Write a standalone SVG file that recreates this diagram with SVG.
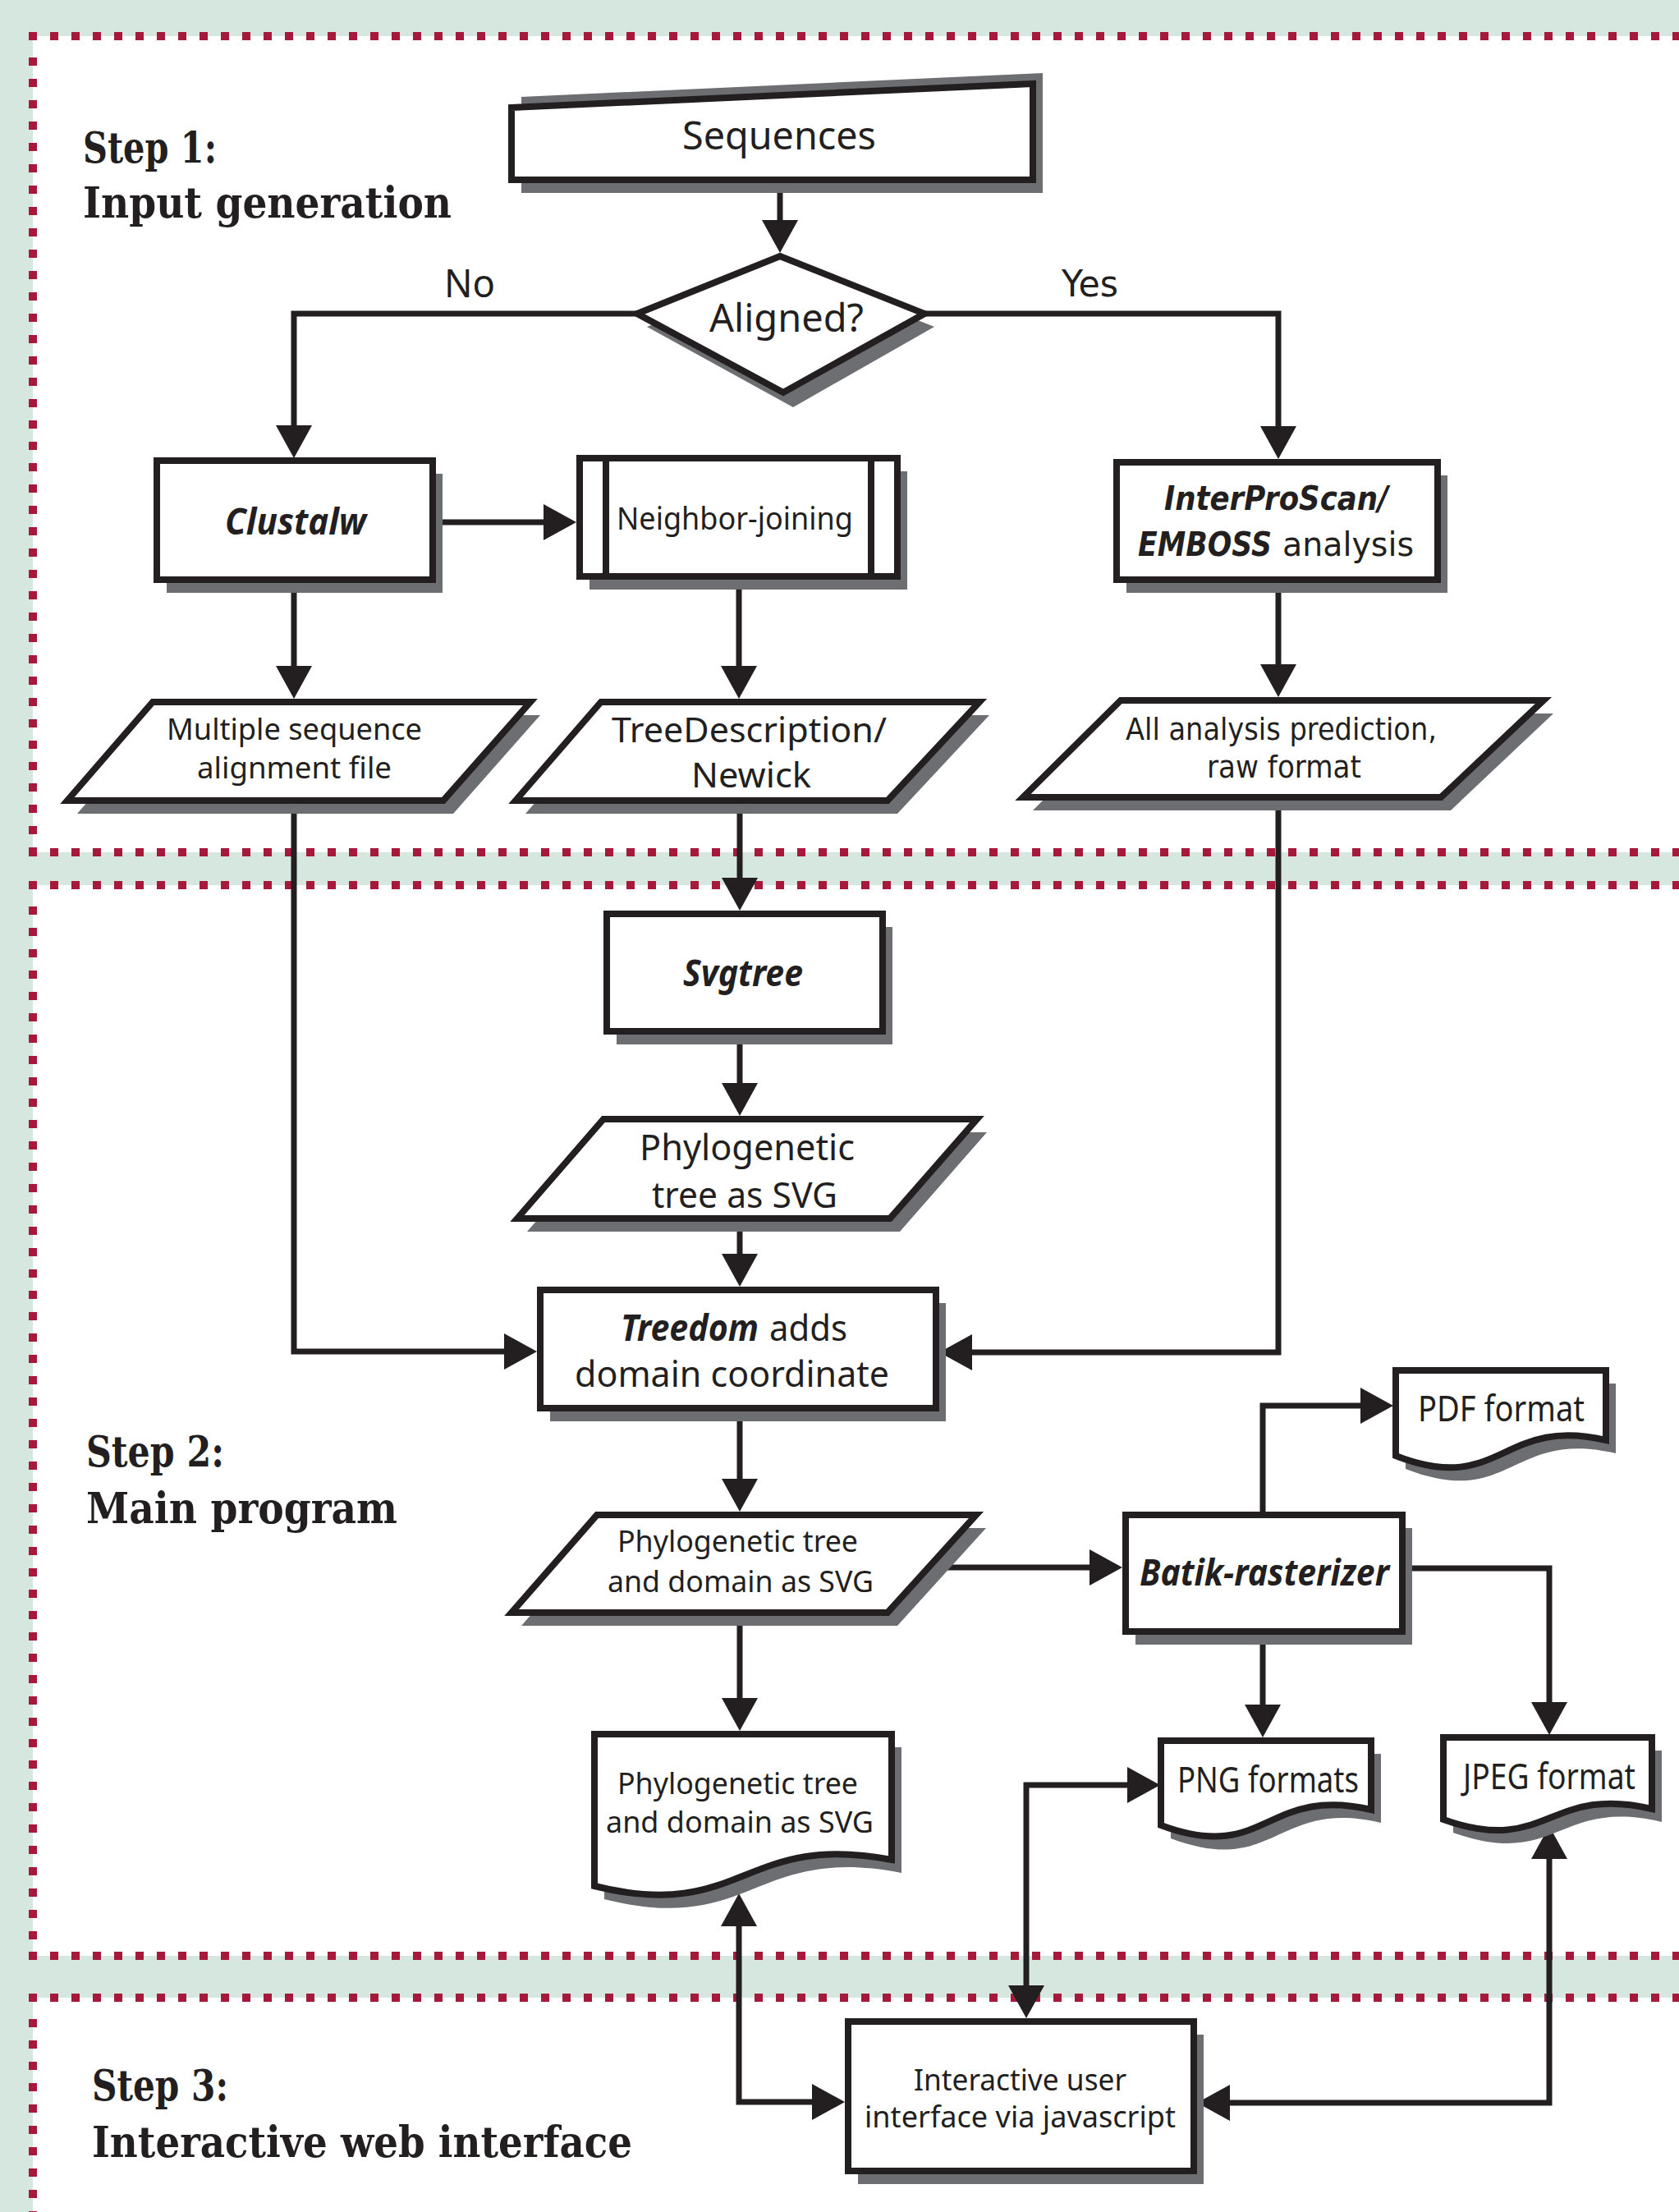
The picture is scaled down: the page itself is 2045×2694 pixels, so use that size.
<svg xmlns="http://www.w3.org/2000/svg" width="2045" height="2694" viewBox="0 0 2045 2694">
<defs>
<style>
.bg{fill:#d6e7df}
.panel{fill:#ffffff}
.dots{fill:none;stroke:#a6193a;stroke-width:10;stroke-dasharray:10 16}
.shape{fill:#ffffff;stroke:#231f20;stroke-width:8;stroke-linejoin:miter}
.inner{fill:none;stroke:#231f20;stroke-width:8}
.shadow{fill:#6d6e71}
.conn{fill:none;stroke:#231f20;stroke-width:7;stroke-linejoin:miter}
.t{font-family:"Noto Sans","Open Sans","DejaVu Sans",sans-serif;fill:#231f20}
.w{font-family:"DejaVu Sans","Noto Sans",sans-serif;fill:#231f20}
.bi{font-weight:bold;font-style:italic}
.step{font-family:"DejaVu Serif","Liberation Serif",serif;font-weight:bold;font-size:52px;fill:#231f20}
</style>
<marker id="ah" markerUnits="userSpaceOnUse" viewBox="0 0 40 44" markerWidth="40" markerHeight="44" refX="30" refY="22" orient="auto-start-reverse">
<path d="M0,0 L40,22 L0,44 z" fill="#231f20"/>
</marker>
</defs>

<g id="background">
<rect class="bg" x="0" y="0" width="2045" height="2694"/>
<rect class="panel" x="40" y="44" width="2005" height="994"/>
<rect class="panel" x="40" y="1078" width="2005" height="1304"/>
<rect class="panel" x="40" y="2433" width="2005" height="261"/>
<path class="dots" d="M35,44 H2045"/>
<path class="dots" d="M40,70 V1038"/>
<path class="dots" d="M35,1038 H2045"/>
<path class="dots" d="M35,1078 H2045"/>
<path class="dots" d="M40,1104 V2382"/>
<path class="dots" d="M35,2382 H2045"/>
<path class="dots" d="M35,2433 H2045"/>
<path class="dots" d="M40,2459 V2694"/>
</g>

<g id="step-labels">
<text class="step" x="101" y="198" textLength="163" lengthAdjust="spacingAndGlyphs">Step 1:</text>
<text class="step" x="101" y="265" textLength="449" lengthAdjust="spacingAndGlyphs">Input generation</text>
<text class="step" x="105" y="1786" textLength="168" lengthAdjust="spacingAndGlyphs">Step 2:</text>
<text class="step" x="105" y="1855" textLength="379" lengthAdjust="spacingAndGlyphs">Main program</text>
<text class="step" x="112" y="2558" textLength="166" lengthAdjust="spacingAndGlyphs">Step 3:</text>
<text class="step" x="112" y="2627" textLength="658" lengthAdjust="spacingAndGlyphs">Interactive web interface</text>
</g>

<g id="connectors">
<path class="conn" d="M950,219 V298" marker-end="url(#ah)"/>
<path class="conn" d="M776,382 H358 V548" marker-end="url(#ah)"/>
<path class="conn" d="M1126,382 H1557 V549" marker-end="url(#ah)"/>
<path class="conn" d="M527,636 H692" marker-end="url(#ah)"/>
<path class="conn" d="M358,706 V841" marker-end="url(#ah)"/>
<path class="conn" d="M900,702 V841" marker-end="url(#ah)"/>
<path class="conn" d="M1557,706 V839" marker-end="url(#ah)"/>
<path class="conn" d="M358,975 V1646 H644" marker-end="url(#ah)"/>
<path class="conn" d="M901,975 V1099" marker-end="url(#ah)"/>
<path class="conn" d="M1557,971 V1647 H1154" marker-end="url(#ah)"/>
<path class="conn" d="M901,1256 V1349" marker-end="url(#ah)"/>
<path class="conn" d="M901,1484 V1557" marker-end="url(#ah)"/>
<path class="conn" d="M901,1715 V1831" marker-end="url(#ah)"/>
<path class="conn" d="M1131,1909 H1357" marker-end="url(#ah)"/>
<path class="conn" d="M901,1964 V2098" marker-end="url(#ah)"/>
<path class="conn" d="M1538,1845 V1712 H1687" marker-end="url(#ah)"/>
<path class="conn" d="M1708,1910 H1887 V2103" marker-end="url(#ah)"/>
<path class="conn" d="M1538,1987 V2106" marker-end="url(#ah)"/>
<path class="conn" d="M900,2316 V2560 H1019" marker-start="url(#ah)" marker-end="url(#ah)"/>
<path class="conn" d="M1250,2448 V2174 H1403" marker-start="url(#ah)" marker-end="url(#ah)"/>
<path class="conn" d="M1468,2561 H1887 V2234" marker-start="url(#ah)" marker-end="url(#ah)"/>
</g>

<g id="node-sequences">
<path class="shadow" d="M635,118 L1270,89 V235 H635 z"/>
<path class="shape" d="M623,131 L1258,102 V219 H623 z"/>
<text class="t" x="831" y="182" font-size="48" textLength="236" lengthAdjust="spacingAndGlyphs">Sequences</text>
</g>

<g id="node-aligned">
<path class="shadow" d="M962,328 L1138,398 L966,496 L788,398 z"/>
<path class="shape" d="M950,312 L1126,382 L954,478 L776,382 z"/>
<text class="t" x="864" y="404" font-size="48" textLength="188" lengthAdjust="spacingAndGlyphs">Aligned?</text>
</g>

<g id="edge-labels">
<text class="t" x="541" y="362" font-size="48" textLength="62" lengthAdjust="spacingAndGlyphs">No</text>
<text class="w" x="1293" y="361" font-size="45" textLength="69" lengthAdjust="spacingAndGlyphs">Yes</text>
</g>

<g id="node-clustalw">
<rect class="shadow" x="203" y="577" width="336" height="145"/>
<rect class="shape" x="191" y="561" width="336" height="145"/>
<text class="t bi" x="274" y="651" font-size="44" textLength="172" lengthAdjust="spacingAndGlyphs">Clustalw</text>
</g>

<g id="node-neighbor-joining">
<rect class="shadow" x="718" y="574" width="387" height="144"/>
<rect class="shape" x="706" y="558" width="387" height="144"/>
<path class="inner" d="M738,558 V702 M1061,558 V702"/>
<text class="t" x="751" y="645" font-size="39" textLength="288" lengthAdjust="spacingAndGlyphs">Neighbor-joining</text>
</g>

<g id="node-interproscan">
<rect class="shadow" x="1372" y="579" width="391" height="143"/>
<rect class="shape" x="1360" y="563" width="391" height="143"/>
<text class="w bi" x="1418" y="621" font-size="41" textLength="273" lengthAdjust="spacingAndGlyphs">InterProScan/</text>
<text class="w bi" x="1386" y="677" font-size="41" textLength="163" lengthAdjust="spacingAndGlyphs">EMBOSS</text>
<text class="w" x="1562" y="677" font-size="41" textLength="160" lengthAdjust="spacingAndGlyphs">analysis</text>
</g>

<g id="node-msa-file">
<path class="shadow" d="M198,871 L658,871 L552,991 L94,991 z"/>
<path class="shape" d="M186,855 L646,855 L540,975 L82,975 z"/>
<text class="t" x="203" y="901" font-size="37" textLength="311" lengthAdjust="spacingAndGlyphs">Multiple sequence</text>
<text class="t" x="240" y="948" font-size="37" textLength="237" lengthAdjust="spacingAndGlyphs">alignment file</text>
</g>

<g id="node-treedescription">
<path class="shadow" d="M744,871 L1205,871 L1093,991 L640,991 z"/>
<path class="shape" d="M732,855 L1193,855 L1081,975 L628,975 z"/>
<text class="t" x="745" y="904" font-size="42" textLength="335" lengthAdjust="spacingAndGlyphs">TreeDescription/</text>
<text class="t" x="842" y="959" font-size="42" textLength="146" lengthAdjust="spacingAndGlyphs">Newick</text>
</g>

<g id="node-all-analysis">
<path class="shadow" d="M1377,869 L1892,869 L1767,987 L1258,987 z"/>
<path class="shape" d="M1365,853 L1880,853 L1755,971 L1246,971 z"/>
<text class="w" x="1371" y="901" font-size="38" textLength="379" lengthAdjust="spacingAndGlyphs">All analysis prediction,</text>
<text class="w" x="1470" y="947" font-size="38" textLength="188" lengthAdjust="spacingAndGlyphs">raw format</text>
</g>

<g id="node-svgtree">
<rect class="shadow" x="751" y="1129" width="336" height="143"/>
<rect class="shape" x="739" y="1113" width="336" height="143"/>
<text class="t bi" x="832" y="1201" font-size="44" textLength="146" lengthAdjust="spacingAndGlyphs">Svgtree</text>
</g>

<g id="node-phylo-svg">
<path class="shadow" d="M747,1379 L1202,1379 L1096,1500 L642,1500 z"/>
<path class="shape" d="M735,1363 L1190,1363 L1084,1484 L630,1484 z"/>
<text class="t" x="779" y="1413" font-size="44" textLength="262" lengthAdjust="spacingAndGlyphs">Phylogenetic</text>
<text class="t" x="794" y="1471" font-size="44" textLength="226" lengthAdjust="spacingAndGlyphs">tree as SVG</text>
</g>

<g id="node-treedom">
<rect class="shadow" x="670" y="1587" width="482" height="144"/>
<rect class="shape" x="658" y="1571" width="482" height="144"/>
<text class="t bi" x="756" y="1633" font-size="44" textLength="168" lengthAdjust="spacingAndGlyphs">Treedom</text>
<text class="t" x="937" y="1633" font-size="44" textLength="95" lengthAdjust="spacingAndGlyphs">adds</text>
<text class="t" x="700" y="1689" font-size="44" textLength="383" lengthAdjust="spacingAndGlyphs">domain coordinate</text>
</g>

<g id="node-phylo-domain-svg">
<path class="shadow" d="M739,1861 L1201,1861 L1093,1980 L635,1980 z"/>
<path class="shape" d="M727,1845 L1189,1845 L1081,1964 L623,1964 z"/>
<text class="t" x="752" y="1890" font-size="36" textLength="293" lengthAdjust="spacingAndGlyphs">Phylogenetic tree</text>
<text class="t" x="740" y="1939" font-size="36" textLength="324" lengthAdjust="spacingAndGlyphs">and domain as SVG</text>
</g>

<g id="node-batik">
<rect class="shadow" x="1383" y="1861" width="337" height="142"/>
<rect class="shape" x="1371" y="1845" width="337" height="142"/>
<text class="t bi" x="1388" y="1931" font-size="44" textLength="304" lengthAdjust="spacingAndGlyphs">Batik-rasterizer</text>
</g>

<g id="node-pdf">
<path class="shadow" d="M1712,1685 H1968 V1770 C1840,1740 1840,1839 1712,1789 z"/>
<path class="shape" d="M1700,1669 H1956 V1754 C1828,1724 1828,1823 1700,1773 z"/>
<text class="t" x="1727" y="1731" font-size="44" textLength="203" lengthAdjust="spacingAndGlyphs">PDF format</text>
</g>

<g id="node-png">
<path class="shadow" d="M1426,2136 H1682 V2220 C1554,2190 1554,2287 1426,2239 z"/>
<path class="shape" d="M1414,2120 H1670 V2204 C1542,2174 1542,2271 1414,2223 z"/>
<text class="t" x="1434" y="2183" font-size="44" textLength="221" lengthAdjust="spacingAndGlyphs">PNG formats</text>
</g>

<g id="node-jpeg">
<path class="shadow" d="M1770,2132 H2024 V2219 C1897,2189 1897,2277 1770,2232 z"/>
<path class="shape" d="M1758,2116 H2012 V2203 C1885,2173 1885,2261 1758,2216 z"/>
<text class="t" x="1782" y="2179" font-size="44" textLength="210" lengthAdjust="spacingAndGlyphs">JPEG format</text>
</g>

<g id="node-phylo-doc">
<path class="shadow" d="M736,2128 H1098 V2281 C917,2246 917,2358 736,2313 z"/>
<path class="shape" d="M724,2112 H1086 V2265 C905,2230 905,2342 724,2297 z"/>
<text class="t" x="752" y="2185" font-size="37" textLength="293" lengthAdjust="spacingAndGlyphs">Phylogenetic tree</text>
<text class="t" x="738" y="2232" font-size="37" textLength="326" lengthAdjust="spacingAndGlyphs">and domain as SVG</text>
</g>

<g id="node-interactive-ui">
<rect class="shadow" x="1045" y="2478" width="421" height="182"/>
<rect class="shape" x="1033" y="2462" width="421" height="182"/>
<text class="t" x="1113" y="2546" font-size="36" textLength="259" lengthAdjust="spacingAndGlyphs">Interactive user</text>
<text class="t" x="1053" y="2591" font-size="36" textLength="379" lengthAdjust="spacingAndGlyphs">interface via javascript</text>
</g>
</svg>
